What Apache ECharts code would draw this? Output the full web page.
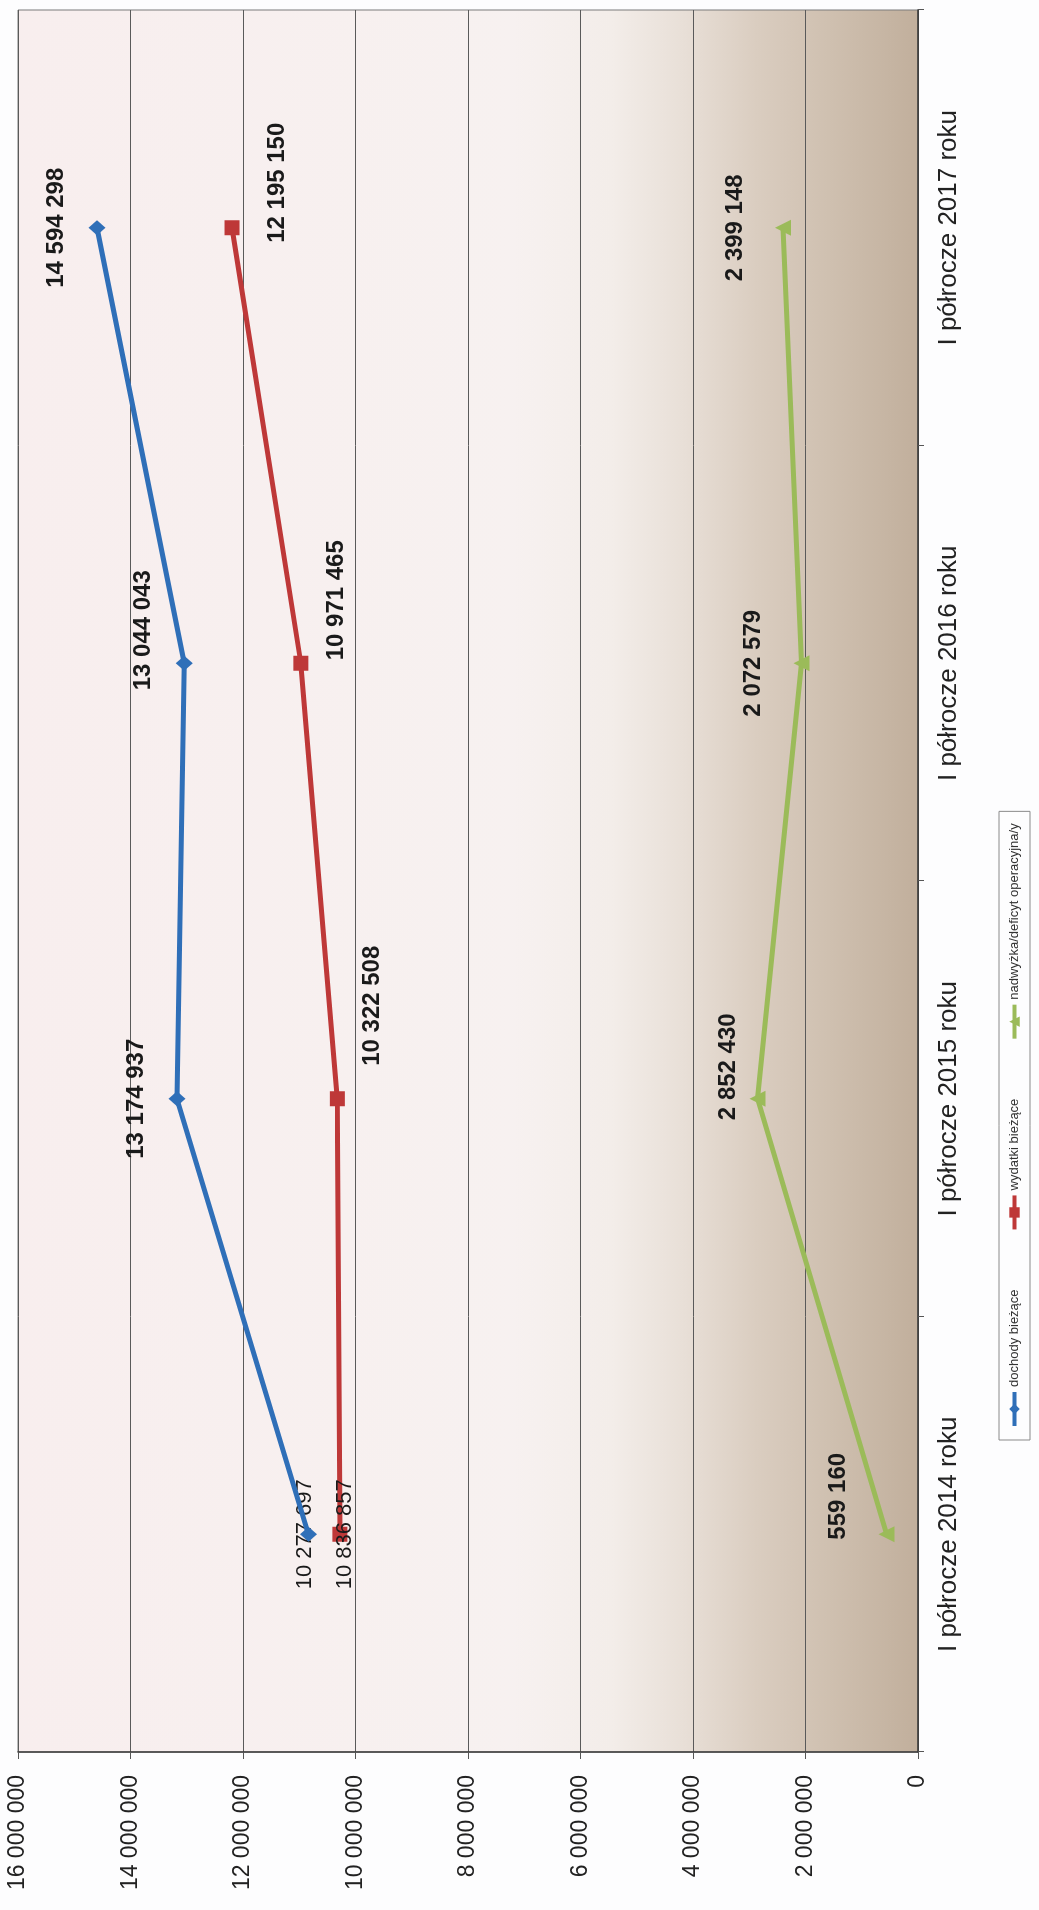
<!DOCTYPE html>
<html>
<head>
<meta charset="utf-8">
<script src="https://cdn.jsdelivr.net/npm/echarts@6/dist/echarts.min.js"></script>
<style>
  html, body { margin: 0; padding: 0; background: #fdfdfe; overflow: hidden; }
  #wrap { width: 1039px; height: 1910px; position: relative; overflow: hidden; }
  /* wykres rysowany poziomo i obrocony o 90 stopni jak na skanie */
  #chart {
    position: absolute; left: 0; top: 0;
    width: 1910px; height: 1039px;
    transform-origin: 0 0;
    transform: translateY(1910px) rotate(-90deg);
  }
</style>
</head>
<body>
<div id="wrap"><div id="chart"></div></div>
<script>
// dane
const categories = ['I półrocze 2014 roku', 'I półrocze 2015 roku', 'I półrocze 2016 roku', 'I półrocze 2017 roku']
const dochody = [10836857, 13174937, 13044043, 14594298]
const wydatki = [10277697, 10322508, 10971465, 12195150]
const nadwyzka = [559160, 2852430, 2072579, 2399148]
const seriesNames = ['dochody bieżące', 'wydatki bieżące', 'nadwyżka/deficyt operacyjna/y']
const valueTicks = [0, 2000000, 4000000, 6000000, 8000000, 10000000, 12000000, 14000000, 16000000]

// przesuniecia etykiet (jak recznie poprawione w Excelu)
const dochodyLabelShift = [[0, 0], [0, 0], [33, 0], [0, 0]]
const wydatkiLabelShift = [[0, 0], [93, 0], [63, 0], [45, 10]]
const nadwyzkaLabelShift = [[38, 0], [32, 19], [0, 0], [0, 0]]

const FONT = '"Liberation Sans", Arial, sans-serif'

function fmt(v) {
    return String(v).replace(/\B(?=(\d{3})+(?!\d))/g, ' ')
}

function withShift(values, shifts, first) {
    return values.map((v, i) => {
        const item = { value: v, label: { offset: shifts[i] } }
        if (i === 0 && first) {
            Object.assign(item.label, first)
        }
        return item
    })
}

const chart = echarts.init(document.getElementById('chart'), null, { renderer: 'canvas' })

const option = {
    animation: false,
    backgroundColor: 'transparent',
    textStyle: { fontFamily: FONT },
    grid: {
        left: 158,
        right: 10,
        top: 18,
        bottom: 121,
        show: true,
        borderColor: '#7a7a7a',
        borderWidth: 1,
        backgroundColor: new echarts.graphic.LinearGradient(0, 0, 0, 1, [
            { offset: 0, color: '#f8eeee' },
            { offset: 0.55, color: '#f7f1f0' },
            { offset: 0.66, color: '#f3ede9' },
            { offset: 0.74, color: '#e8dfd7' },
            { offset: 0.82, color: '#dacdc0' },
            { offset: 0.9, color: '#cfc0b0' },
            { offset: 1, color: '#c1af9c' }
        ])
    },
    legend: {
        left: 470,
        top: 999,
        orient: 'horizontal',
        borderColor: '#8a8a8a',
        borderWidth: 1,
        padding: [9, 12],
        itemGap: 58,
        itemWidth: 34,
        itemHeight: 13,
        lineStyle: { width: 4 },
        textStyle: { fontSize: 13, color: '#333', fontFamily: FONT },
        data: seriesNames
    },
    xAxis: {
        type: 'category',
        data: categories,
        boundaryGap: true,
        axisLine: { lineStyle: { color: '#3a3a3a', width: 1.5 } },
        axisTick: { show: true, length: 6, lineStyle: { color: '#555' } },
        axisLabel: { fontSize: 26, color: '#222', margin: 18, fontFamily: FONT }
    },
    yAxis: {
        type: 'value',
        min: 0,
        max: 16000000,
        interval: 2000000,
        axisLine: { show: true, lineStyle: { color: '#3a3a3a', width: 1.5 } },
        axisTick: { show: true, length: 7, lineStyle: { color: '#555' } },
        axisLabel: {
            fontSize: 23,
            color: '#222',
            margin: 23,
            fontFamily: FONT,
            formatter: v => valueTicks.includes(v) ? fmt(v) : ''
        },
        splitLine: { lineStyle: { color: '#5a5a5a', width: 1 } }
    },
    series: [
        {
            name: seriesNames[0],
            type: 'line',
            data: withShift(dochody, dochodyLabelShift, { position: 'bottom', distance: 17, fontWeight: 'normal', fontSize: 22 }),
            symbol: 'diamond',
            symbolSize: [15, 17],
            z: 3,
            lineStyle: { color: '#2f6fb8', width: 5 },
            itemStyle: { color: '#2f6fb8' },
            label: {
                show: true,
                position: 'top',
                distance: 20,
                fontSize: 24,
                fontWeight: 'bold',
                color: '#1a1a1a',
                fontFamily: FONT,
                formatter: p => fmt(p.value)
            }
        },
        {
            name: seriesNames[1],
            type: 'line',
            data: withShift(wydatki, wydatkiLabelShift, { position: 'top', distance: 16, fontWeight: 'normal', fontSize: 22 }),
            symbol: 'rect',
            symbolSize: 15,
            z: 2,
            lineStyle: { color: '#be3838', width: 5 },
            itemStyle: { color: '#be3838' },
            label: {
                show: true,
                position: 'bottom',
                distance: 16,
                fontSize: 24,
                fontWeight: 'bold',
                color: '#1a1a1a',
                fontFamily: FONT,
                formatter: p => fmt(p.value)
            }
        },
        {
            name: seriesNames[2],
            type: 'line',
            data: withShift(nadwyzka, nadwyzkaLabelShift),
            symbol: 'triangle',
            symbolSize: 16,
            z: 2,
            lineStyle: { color: '#9bbb59', width: 5 },
            itemStyle: { color: '#9bbb59' },
            label: {
                show: true,
                position: 'top',
                distance: 28,
                fontSize: 24,
                fontWeight: 'bold',
                color: '#1a1a1a',
                fontFamily: FONT,
                formatter: p => fmt(p.value)
            }
        }
    ]
}

chart.setOption(option)
</script>
</body>
</html>
